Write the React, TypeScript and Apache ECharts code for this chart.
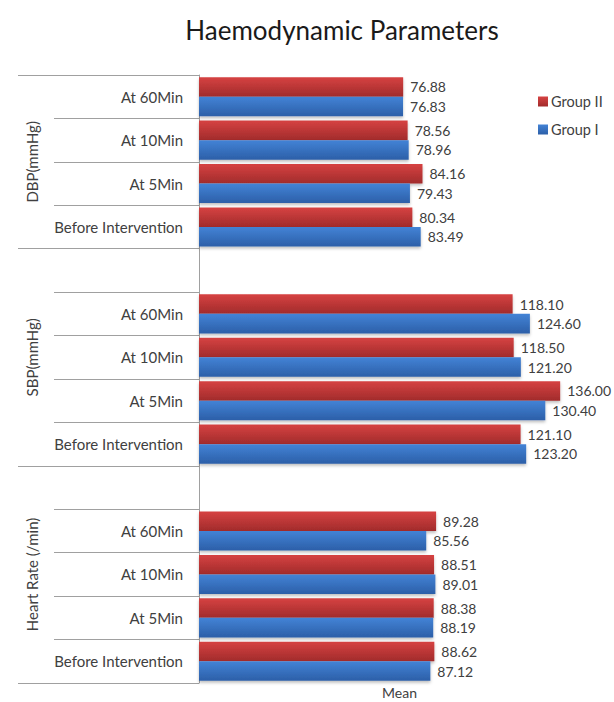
import React, { useEffect, useRef } from "react";
import * as echarts from "echarts";

const rowLabels = [
  "At 60Min", "At 10Min", "At 5Min", "Before Intervention", "",
  "At 60Min", "At 10Min", "At 5Min", "Before Intervention", "",
  "At 60Min", "At 10Min", "At 5Min", "Before Intervention",
];
const groupNames = ["DBP(mmHg)", "SBP(mmHg)", "Heart Rate (/min)"];
const groupRowCounts = [4, 5, 5];
const groupII = [76.88, 78.56, 84.16, 80.34, null, 118.1, 118.5, 136.0, 121.1, null, 89.28, 88.51, 88.38, 88.62];
const groupI = [76.83, 78.96, 79.43, 83.49, null, 124.6, 121.2, 130.4, 123.2, null, 85.56, 89.01, 88.19, 87.12];
const seriesNames = ["Group II", "Group I"];

const FONT = "Lato";

export default function App() {
  const ref = useRef<HTMLDivElement>(null);
  useEffect(() => {
    if (!ref.current) return;
    const chart = echarts.init(ref.current, null, { renderer: "svg" });

    const boundaries: number[] = [0];
    const centers: number[] = [];
    let acc = 0;
    groupRowCounts.forEach((c) => {
      centers.push(acc + c / 2);
      acc += c;
      boundaries.push(acc);
    });

    const grad = (top: string, bottom: string) =>
      new echarts.graphic.LinearGradient(0, 0, 0, 1, [
        { offset: 0, color: top },
        { offset: 1, color: bottom },
      ]);

    const labelCfg = {
      show: true,
      position: "right" as const,
      distance: 7,
      color: "#404040",
      fontFamily: FONT,
      fontSize: 14,
      formatter: (p: any) => (p.value == null ? "" : Number(p.value).toFixed(2)),
    };

    chart.setOption({
      animation: false,
      textStyle: { fontFamily: FONT },
      title: {
        text: "Haemodynamic Parameters",
        left: 337,
        textAlign: "center",
        top: 12,
        textStyle: { fontFamily: FONT, fontSize: 26, fontWeight: "normal", color: "#1a1a1a" },
      },
      legend: {
        orient: "vertical",
        left: 533,
        top: 89,
        itemWidth: 10,
        itemHeight: 10,
        itemGap: 13,
        icon: "rect",
        data: seriesNames,
        textStyle: { fontFamily: FONT, fontSize: 14.5, color: "#404040", padding: [0, 0, 0, -2] },
      },
      grid: { left: 199, right: 14, top: 75, bottom: 19, outerBoundsMode: "none" },
      xAxis: {
        type: "value",
        min: 0,
        max: 151,
        name: "Mean",
        nameLocation: "middle",
        nameGap: 2,
        nameTextStyle: { fontFamily: FONT, fontSize: 14, color: "#404040" },
        axisLine: { show: false },
        axisTick: { show: false },
        axisLabel: { show: false },
        splitLine: { show: false },
      },
      yAxis: [
        {
          type: "category",
          inverse: true,
          position: "left",
          data: rowLabels,
          axisLine: { show: true, lineStyle: { color: "#a0a0a0", width: 1 } },
          axisTick: { show: true, interval: 0, length: 145, lineStyle: { color: "#a0a0a0" } },
          axisLabel: { interval: 0, margin: 16, color: "#404040", fontFamily: FONT, fontSize: 15 },
          splitLine: { show: false },
        },
        {
          type: "value",
          inverse: true,
          position: "left",
          min: 0,
          max: acc,
          axisLine: { show: false },
          splitLine: { show: false },
          axisTick: {
            show: true,
            length: 181,
            customValues: boundaries,
            lineStyle: { color: "#a0a0a0" },
          },
          axisLabel: {
            show: true,
            customValues: centers,
            rotate: 90,
            margin: 160,
            color: "#404040",
            fontFamily: FONT,
            fontSize: 15,
            formatter: (v: number) => {
              const i = centers.findIndex((c) => Math.abs(c - v) < 1e-6);
              return i >= 0 ? groupNames[i] : "";
            },
          },
        },
      ],
      series: [
        {
          name: seriesNames[0],
          type: "bar",
          yAxisIndex: 0,
          data: groupII,
          barGap: "0%",
          barCategoryGap: "10%",
          itemStyle: {
            color: grad("#d64242", "#a12b2b"),
            shadowBlur: 3,
            shadowOffsetY: 2,
            shadowColor: "rgba(0,0,0,0.25)",
          },
          label: labelCfg,
        },
        {
          name: seriesNames[1],
          type: "bar",
          yAxisIndex: 0,
          data: groupI,
          barGap: "0%",
          barCategoryGap: "10%",
          itemStyle: {
            color: grad("#4383d6", "#2c5fa8"),
            shadowBlur: 3,
            shadowOffsetY: 2,
            shadowColor: "rgba(0,0,0,0.25)",
          },
          label: labelCfg,
        },
      ],
    });
    return () => chart.dispose();
  }, []);
  return (
    <div
      ref={ref}
      style={{ position: "fixed", left: 0, top: 0, width: 614, height: 702, background: "#fff" }}
    />
  );
}
